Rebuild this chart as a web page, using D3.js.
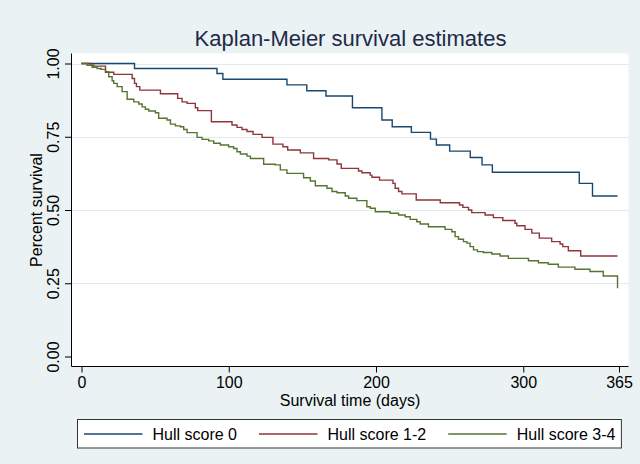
<!DOCTYPE html>
<html>
<head>
<meta charset="utf-8">
<script src="https://cdn.jsdelivr.net/npm/d3@7"></script>
<style>
  html, body { margin: 0; padding: 0; background: #eaf2f3; }
  svg { display: block; font-family: "Liberation Sans", Arial, sans-serif; }
</style>
</head>
<body>
<svg id="chart" width="640" height="464"></svg>
<script>
'use strict';

// survival data (days, survival)
const hull0Days = [0, 36, 92, 96, 139.5, 153, 166, 184, 204, 211, 224, 237, 241, 250, 264, 272, 279, 338, 347, 364];
const hull0Surv = [1, 0.983, 0.966, 0.946, 0.927, 0.907, 0.889, 0.849, 0.807, 0.784, 0.765, 0.742, 0.722, 0.701, 0.679, 0.654, 0.629, 0.591, 0.548, 0.548];

const hull12Days = [0, 6.1, 8.4, 16.3, 21.9, 34.4, 36, 37.3, 39.6, 53.6,
  65.3, 68.3, 71.7, 77.3, 78.9, 88.2, 102.2, 105.6, 109, 112.4,
  116.5, 122.6, 130, 136.8, 140, 148.6, 157.6, 167.8, 173.5, 176.4,
  188.1, 190.4, 196, 197.2, 202.4, 211.5, 213, 215.3, 217.6, 227.3,
  243.6, 256.7, 259, 262.8, 265, 274.1, 279.7, 286.1, 294.4, 295.6,
  301.2, 305.8, 310.9, 319.3, 325, 326.8, 330.6, 339, 364];
const hull12Surv = [1, 0.994, 0.991, 0.970, 0.963, 0.949, 0.932, 0.921, 0.909, 0.897,
  0.881, 0.869, 0.864, 0.849, 0.839, 0.801, 0.790, 0.782, 0.775, 0.768,
  0.758, 0.748, 0.725, 0.716, 0.705, 0.695, 0.676, 0.671, 0.657, 0.642,
  0.633, 0.627, 0.619, 0.612, 0.602, 0.591, 0.574, 0.563, 0.555, 0.534,
  0.525, 0.517, 0.509, 0.500, 0.491, 0.483, 0.474, 0.464, 0.455, 0.446,
  0.434, 0.421, 0.404, 0.392, 0.384, 0.375, 0.361, 0.343, 0.343];

const hull34Days = [0, 3.8, 7.2, 10.6, 13.3, 16.3, 18.5, 20.8, 21.9, 24.2,
  27.6, 31, 35.5, 38.9, 41.2, 43.4, 45.7, 50.2, 52.4, 58.1,
  60.4, 63.8, 67.2, 69.4, 71.7, 78.5, 81.9, 86.4, 89.8, 94.3,
  99.9, 103.3, 105.6, 107.9, 112.4, 114.7, 123.7, 131.6, 135, 139.5,
  150.8, 155.4, 158.8, 166.7, 170.1, 173.5, 179.1, 181.4, 187, 193.8,
  196.1, 199.5, 209.6, 215.3, 219.8, 223.2, 227.7, 230, 235.6, 246.9,
  251.5, 253.7, 256, 259.4, 261.7, 263.9, 266.2, 268.9, 272.9, 278.6,
  284.3, 289.9, 303.5, 310.3, 317, 323.8, 335.1, 345.3, 354.3, 364];
const hull34Surv = [1, 0.994, 0.987, 0.983, 0.980, 0.972, 0.955, 0.941, 0.932, 0.921,
  0.904, 0.878, 0.869, 0.862, 0.852, 0.844, 0.838, 0.832, 0.813, 0.807,
  0.793, 0.787, 0.784, 0.775, 0.764, 0.748, 0.741, 0.736, 0.728, 0.722,
  0.716, 0.710, 0.699, 0.691, 0.684, 0.676, 0.656, 0.654, 0.637, 0.625,
  0.610, 0.599, 0.583, 0.574, 0.563, 0.559, 0.548, 0.540, 0.532, 0.511,
  0.506, 0.494, 0.489, 0.483, 0.477, 0.468, 0.460, 0.452, 0.443, 0.434,
  0.426, 0.409, 0.400, 0.392, 0.387, 0.375, 0.364, 0.358, 0.355, 0.350,
  0.343, 0.335, 0.327, 0.320, 0.315, 0.305, 0.298, 0.290, 0.275, 0.233];

const groupNames = ['Hull score 0', 'Hull score 1-2', 'Hull score 3-4'];
const groupColors = ['#1a476f', '#90353b', '#55752f'];
const xTicks = [0, 100, 200, 300, 365];
const yTicks = [0, 0.25, 0.5, 0.75, 1];
const yGrid = [0.25, 0.5, 0.75, 1];

const series = [
  [hull0Days, hull0Surv],
  [hull12Days, hull12Surv],
  [hull34Days, hull34Surv],
].map(([days, surv], i) => ({
  name: groupNames[i],
  color: groupColors[i],
  values: days.map((d, j) => ({ t: d, s: surv[j] })),
}));

const svg = d3.select('#chart');
const box = { left: 71.5, right: 628.5, top: 53.5, bottom: 366.5 };

const x = d3.scaleLinear().domain([0, 365]).range([81.5, 619]);
const y = d3.scaleLinear().domain([0, 1]).range([356.5, 63.5]);

svg.append('rect')
  .attr('width', 640).attr('height', 464)
  .attr('fill', '#eaf2f3');

svg.append('rect')
  .attr('x', box.left).attr('y', box.top)
  .attr('width', box.right - box.left)
  .attr('height', box.bottom - box.top)
  .attr('fill', '#ffffff');

// grid
svg.append('g')
  .selectAll('line')
  .data(yGrid)
  .enter()
  .append('line')
  .attr('x1', box.left).attr('x2', box.right)
  .attr('y1', (d) => Math.round(y(d)) + 0.5)
  .attr('y2', (d) => Math.round(y(d)) + 0.5)
  .attr('stroke', '#e2ebee')
  .attr('stroke-width', 1.2);

// curves
const line = d3.line()
  .x((d) => x(d.t))
  .y((d) => y(d.s))
  .curve(d3.curveStepAfter);

svg.append('g')
  .selectAll('path')
  .data(series)
  .enter()
  .append('path')
  .attr('d', (d) => line(d.values))
  .attr('fill', 'none')
  .attr('stroke', (d) => d.color)
  .attr('stroke-width', 1.4);

// axes
const yAxis = svg.append('g')
  .attr('transform', `translate(${box.left},0)`)
  .call(d3.axisLeft(y).tickValues(yTicks).tickFormat(d3.format('.2f')).tickSize(6.5).tickSizeOuter(0));
yAxis.select('.domain').remove();
yAxis.selectAll('.tick line').attr('stroke', '#000');
yAxis.selectAll('.tick text')
  .attr('x', 0).attr('dy', 0)
  .attr('transform', 'translate(-13,0) rotate(-90)')
  .attr('text-anchor', 'middle')
  .attr('font-size', 16)
  .attr('font-family', '"Liberation Sans", Arial, sans-serif')
  .attr('fill', '#000');

const xAxis = svg.append('g')
  .attr('transform', `translate(0,${box.bottom})`)
  .call(d3.axisBottom(x).tickValues(xTicks).tickSize(6).tickSizeOuter(0));
xAxis.select('.domain').remove();
xAxis.selectAll('.tick line').attr('stroke', '#000');
xAxis.selectAll('.tick text')
  .attr('y', 21.5).attr('dy', 0)
  .attr('font-size', 16)
  .attr('font-family', '"Liberation Sans", Arial, sans-serif')
  .attr('fill', '#000');

svg.append('line')
  .attr('x1', box.left).attr('x2', box.left)
  .attr('y1', box.top).attr('y2', box.bottom)
  .attr('stroke', '#000');
svg.append('line')
  .attr('x1', box.left).attr('x2', box.right)
  .attr('y1', box.bottom).attr('y2', box.bottom)
  .attr('stroke', '#000');

// labels
svg.append('text')
  .attr('x', 350.5).attr('y', 45.5)
  .attr('text-anchor', 'middle')
  .attr('font-size', 22)
  .attr('fill', '#1e2a48')
  .text('Kaplan-Meier survival estimates');

svg.append('text')
  .attr('x', 350).attr('y', 406)
  .attr('text-anchor', 'middle')
  .attr('font-size', 16)
  .text('Survival time (days)');

svg.append('text')
  .attr('transform', `translate(41.5,${(y(0) + y(1)) / 2}) rotate(-90)`)
  .attr('text-anchor', 'middle')
  .attr('font-size', 16)
  .text('Percent survival');

// legend
const legend = svg.append('g');
const legendBox = legend.append('rect')
  .attr('x', 77.5).attr('y', 419.5)
  .attr('height', 28.5)
  .attr('fill', '#fff')
  .attr('stroke', '#333')
  .attr('stroke-width', 1);

let cx = 84;
series.forEach((s) => {
  legend.append('line')
    .attr('x1', cx).attr('x2', cx + 58.5)
    .attr('y1', 434).attr('y2', 434)
    .attr('stroke', s.color)
    .attr('stroke-width', 1.4);
  const t = legend.append('text')
    .attr('x', cx + 68.5).attr('y', 439.5)
    .attr('font-size', 16)
    .text(s.name);
  cx += 68.5 + t.node().getComputedTextLength() + 22;
});
legendBox.attr('width', cx - 22 + 6 - 77.5);
</script>
</body>
</html>
